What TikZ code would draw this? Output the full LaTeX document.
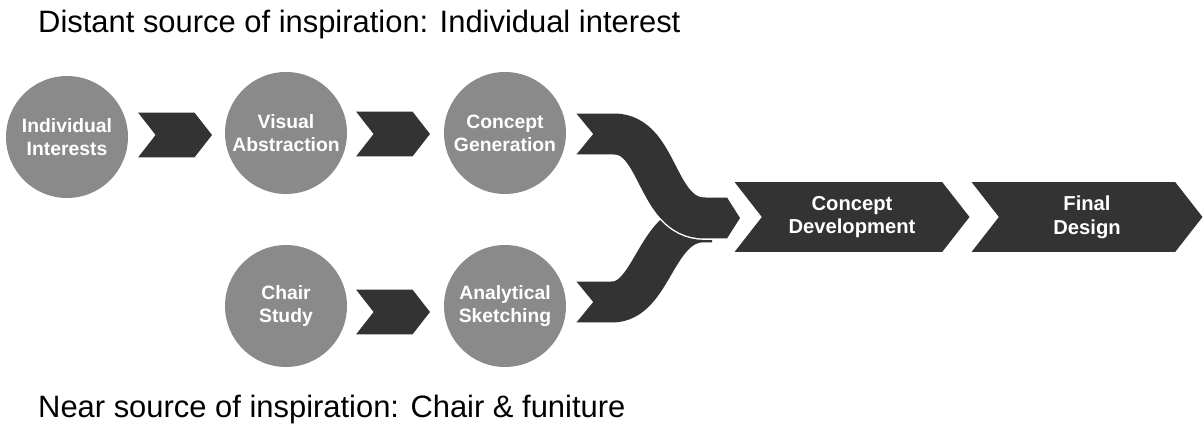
\documentclass[tikz,border=0pt]{standalone}
\usepackage{fontspec}
\setmainfont{Liberation Sans}
\usepackage{xcolor}
\definecolor{stageGray}{HTML}{8A8A8A}
\definecolor{flowDark}{HTML}{333333}
\usetikzlibrary{shapes.symbols}

\begin{document}
\begin{tikzpicture}[
		x=0.02cm, y=-0.02cm,
		stage/.style={
			circle,
			fill=stageGray,
			minimum size=2.44cm,
			inner sep=0pt,
			align=center,
			text=white,
			font=\fontsize{11}{13}\selectfont\bfseries
		},
		link/.style={
			signal, signal from=west, signal to=east,
			signal pointer angle=104,
			fill=flowDark,
			minimum width=1.48cm,
			minimum height=0.9cm,
			inner sep=0pt
		},
		bigstep/.style={
			link,
			minimum width=4.7cm,
			minimum height=1.4cm,
			align=center,
			text=white,
			font=\fontsize{11.5}{13.5}\selectfont\bfseries
		},
		band/.style={draw=flowDark, line width=0.82cm},
		caption/.style={anchor=base west, font=\fontsize{17.6}{20}\selectfont}
		]
		\useasboundingbox (0,0) rectangle (1203,435);
		
		\node[caption] (distant) at (32,33) {Distant source of inspiration: Individual interest};
		\node[caption] (near) at (32,418) {Near source of inspiration: Chair \& funiture};
		
		\node[stage] (interests) at (67,137) {Individual\\Interests};
		\node[stage] (visual) at (286,133) {Visual\\Abstraction};
		\node[stage] (generation) at (505,133) {Concept\\Generation};
		\node[stage] (chair) at (286,306) {Chair\\Study};
		\node[stage] (sketching) at (505,306) {Analytical\\Sketching};
		
		\node[link] (l1) at (175,135) {};
		\node[link] (l2) at (393,134) {};
		\node[link] (l3) at (393,312) {};
		
		% merging bands
		\coordinate (topin) at (575,134);
		\coordinate (lowin) at (575,302);
		\coordinate (join) at (727,218);
		\draw[band] (lowin) -- (612,302) .. controls (652,302) and (655,226) .. (700,222) -- (712,222);
		\draw[band, draw=white, line width=0.82cm+1.6pt] (topin) -- (614,134) .. controls (660,134) and (655,218) .. (705,218) -- (join);
		\draw[band] (topin) -- (614,134) .. controls (660,134) and (655,218) .. (705,218) -- (join);
		\fill[white] (topin) ++(0,-22) -- ++(18,22) -- ++(-18,22) -- cycle;
		\fill[white] (lowin) ++(0,-22) -- ++(18,22) -- ++(-18,22) -- cycle;
		\fill[flowDark] (join) ++(0,-20.5) -- ++(13,20.5) -- ++(-13,20.5) -- cycle;
		
		\node[bigstep] (development) at (852,217) {Concept\\Development};
		\node[bigstep, minimum width=4.62cm] (final) at (1087,217) {Final\\Design};
		
	\end{tikzpicture}
\end{document}
